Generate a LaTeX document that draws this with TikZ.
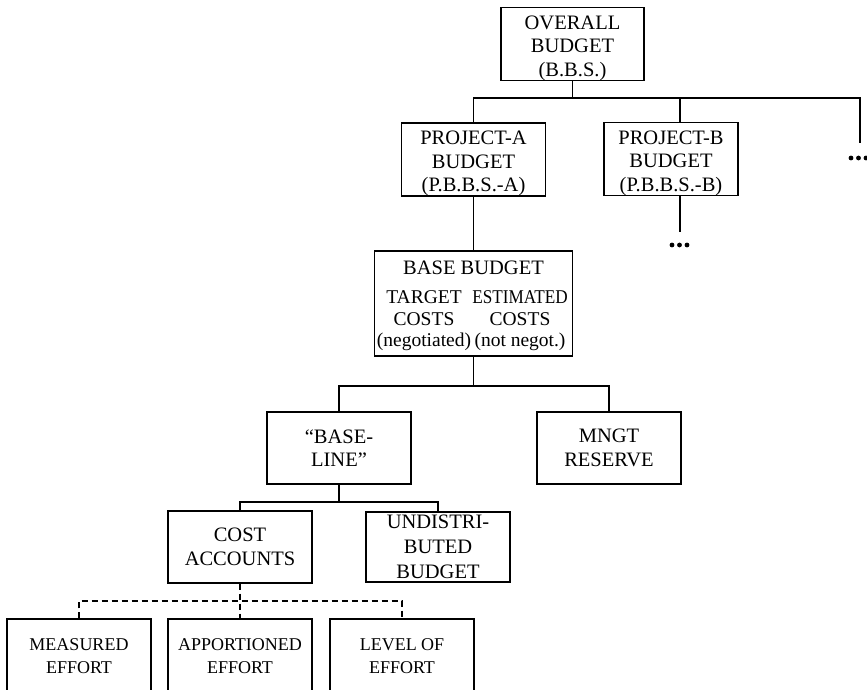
\documentclass[tikz,border=0pt]{standalone}
\usepackage{fontspec}
\setmainfont{Liberation Serif}
\begin{document}
\begin{tikzpicture}[x=1pt,y=-1pt,line width=1.4pt,
  box/.style={draw,rectangle,inner sep=0pt,minimum width=144pt,minimum height=72pt,align=center,font=\fontsize{20.5}{23.5}\selectfont},
  lowbox/.style={box,minimum height=74pt,font=\fontsize{18}{23}\selectfont},
  txt/.style={inner sep=0pt,align=center,font=\fontsize{19.5}{21.5}\selectfont},
  dsh/.style={dash pattern=on 6pt off 4pt},
  dot/.style={fill=black}]
\useasboundingbox (0,0) rectangle (867,689);
\clip (0,0) rectangle (867,689);
% boxes
\node[box,minimum width=143pt] (overall) at (572.5,44) {\rule{0pt}{22pt}OVERALL\\BUDGET\\(B.B.S.)};
\node[box,minimum height=73pt] (projA) at (473.5,159.5) {\rule{0pt}{22pt}PROJECT-A\\BUDGET\\(P.B.B.S.-A)};
\node[box,minimum width=134pt] (projB) at (671,159) {\rule{0pt}{22pt}PROJECT-B\\BUDGET\\(P.B.B.S.-B)};
\node[box,minimum width=198pt,minimum height=105pt] (base) at (473.5,303.5) {};
\node[txt,anchor=base,font=\fontsize{20.5}{23.5}\selectfont] (basetitle) at (473.5,274) {BASE BUDGET};
\node[txt] (tcol) at (424,321) {TARGET\\COSTS\\(negotiated)};
\node[txt] (ecol) at (520,321) {\scalebox{0.88}[1]{ESTIMATED}\\COSTS\\(not negot.)};
\node[box] (baseline) at (339,448) {“BASE-\\LINE”};
\node[box] (mngt) at (609,448) {MNGT\\RESERVE};
\node[box] (cost) at (240,547) {COST\\ACCOUNTS};
\node[box,minimum height=70pt,font=\fontsize{20.5}{25}\selectfont] (undist) at (438,547) {UNDISTRI-\\BUTED\\BUDGET};
\node[lowbox] (measured) at (79,656) {MEASURED\\EFFORT};
\node[lowbox] (apport) at (240,656) {APPORTIONED\\EFFORT};
\node[lowbox] (level) at (402,656) {LEVEL OF\\EFFORT};
% junction coordinates
\coordinate (barR) at (860,98);
\coordinate (endR) at (860,143);
\coordinate (bx) at (680,98);
\coordinate (endB) at (680,232);
\coordinate (j1) at (473.5,386);
\coordinate (j2) at (339,502);
\coordinate (j3) at (240,601);
% connectors
\draw (overall.south) -- (overall.south |- barR);
\draw (projA.north) |- (barR) -- (endR);
\draw (bx) -- (bx |- projB.north);
\draw (bx |- projB.south) -- (endB);
\draw (projA.south) -- (base.north);
\draw (base.south) -- (j1);
\draw (baseline.north) |- (j1) -| (mngt.north);
\draw (baseline.south) -- (j2);
\draw (cost.north) |- (j2) -| (undist.north);
\draw[dsh] (cost.south) -- (apport.north);
\draw[dsh] (measured.north) |- (j3) -| (level.north);
% ellipsis dots
\foreach \x in {672,679.5,687} \fill[dot] (\x,245) circle (2.4pt);
\foreach \x in {851,858.5,866} \fill[dot] (\x,158) circle (2.4pt);
\end{tikzpicture}
\end{document}
